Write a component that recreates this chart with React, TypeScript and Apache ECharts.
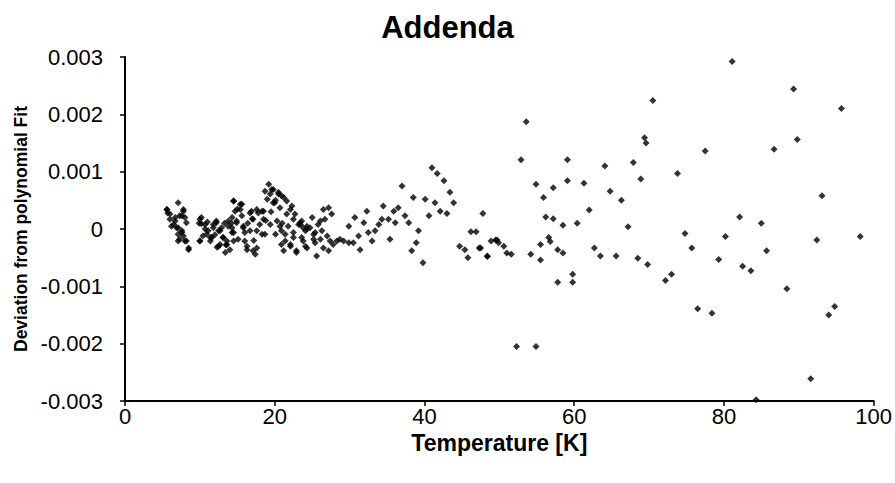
import React, { useEffect, useRef } from "react";
import * as echarts from "echarts";

const chartTitle = "Addenda";
const xAxisTitle = "Temperature [K]";
const yAxisTitle = "Deviation from polynomial Fit";
const xTicks = [0, 20, 40, 60, 80, 100];
const yTicks = [-0.003, -0.002, -0.001, 0, 0.001, 0.002, 0.003];

// Temperature [K]
const temperature = [
  5.6, 5.7, 6.0, 6.7, 6.2, 6.9, 7.6, 7.8, 7.3, 8.0, 7.1, 8.0, 8.5, 7.3, 7.8, 8.2, 7.1,
  10.0, 10.2, 10.0, 10.7, 10.9, 11.4, 11.6, 11.8, 12.2, 12.5, 12.7, 12.9, 13.1, 13.6, 13.8,
  14.0, 14.3, 14.5, 14.7, 14.9, 15.1, 15.4, 15.6, 15.8, 16.0, 16.3, 16.7, 16.9, 17.4, 17.6,
  17.8, 18.0, 18.3, 18.5, 19.0, 19.2, 19.4, 19.8, 20.0, 20.3, 20.5, 20.7, 20.9, 21.2, 21.4,
  21.6, 21.8, 22.1, 22.3, 22.5, 22.7, 22.9, 23.2, 23.6, 23.8, 24.1, 24.3, 24.7, 25.0, 25.2,
  25.4, 25.6, 25.8,
  11.0, 12.0, 13.3, 14.2, 15.0, 16.4, 17.0, 17.2, 18.8, 19.5, 20.1, 21.0, 13.5, 12.3, 9.9, 10.4,
  18.7, 19.6, 20.5, 20.9, 21.6, 19.8, 14.5, 15.6, 15.4, 16.7, 17.6, 18.3, 22.1, 22.5, 23.4,
  14.3, 14.9, 15.8, 17.1, 18.5, 19.4, 20.7, 24.3, 14.5, 16.0, 17.6, 18.7, 20.1, 21.4, 22.5,
  23.6, 14.5, 16.3, 20.9, 22.1, 24.1, 17.1, 21.2, 22.9,
  5.6, 6.0, 6.7, 7.8, 7.6, 6.5, 7.1, 7.6, 7.1, 8.2, 8.5, 10.2, 10.7, 11.1, 11.4, 10.0,
  11.8, 12.2, 12.7, 13.1, 13.6, 12.5, 13.4, 13.8, 14.3,
  23.4, 23.8, 24.3, 25.4, 25.2, 26.1, 26.1, 26.5, 27.2, 27.6, 26.7, 26.3, 26.5, 27.0, 27.4,
  27.2, 27.8, 28.3, 28.7, 29.2, 29.9, 30.5, 29.9, 30.7, 31.2, 31.4, 31.9, 32.3, 32.5, 33.0,
  33.4, 33.9, 34.3, 34.5, 35.2, 35.4, 35.9, 36.1, 36.5, 37.0, 37.4, 37.9, 38.5, 39.2, 38.9,
  38.3, 39.8, 40.1, 40.6, 41.0, 41.7, 41.4, 42.1, 42.6, 43.0, 43.4, 43.9, 44.7, 45.4, 45.8,
  46.2, 46.9, 47.8, 47.3, 48.4, 48.9, 49.7,
  47.5, 48.4, 49.5, 49.9, 50.6, 51.0, 51.6, 52.3, 52.9, 53.6, 54.2, 54.9, 54.9, 55.5, 55.5,
  55.9, 56.2, 56.6, 56.8, 57.2, 57.2, 57.8, 57.8, 58.5, 58.5, 59.1, 59.1, 59.8, 59.8, 60.4,
  61.3, 62.0, 62.7, 63.5, 64.1, 64.8, 65.6, 66.3, 67.2, 67.9, 68.5, 68.9, 69.4, 69.6, 69.8,
  70.5, 72.2, 73.0, 73.8,
  74.8, 75.7, 76.5, 77.5, 78.4, 79.3, 80.2, 81.1, 82.1, 82.5, 83.6, 84.3, 85.0, 85.7, 86.7,
  88.4, 89.3, 89.8, 91.6, 92.4, 93.1, 94.0, 94.8, 95.7, 98.2,
];

// Deviation from polynomial fit
const deviation = [
  0.00034, 0.00028, 0.00017, 0.00014, 0.00005, 0.00002, -0.00003, 0.00031, 0.00023, 0.0002, -0.00009, -0.00021, -0.00033, -0.00018, -0.00012, 0.00011, 0.00046,
  0.00017, 0.00009, -0.00021, 0.0, -0.00009, -0.00021, -0.00015, 0.00008, 0.00014, -0.00003, -0.00027, 0.00002, -0.00015, -0.00021, 0.00005,
  -0.00036, -0.00006, 0.00049, 0.00031, 0.00014, -0.00018, 0.00043, 0.00023, 0.00002, -0.00021, -0.00036, -0.00003, 0.00031, -0.00044, -0.00033,
  0.00028, 0.00008, -0.00009, 0.00031, 0.00052, 0.00078, 0.00061, 0.00069, 0.00046, 0.00014, 0.00061, 0.00037, -0.00003, 0.00055, -0.00021,
  0.00026, 0.00005, -0.00027, 0.0004, -0.00006, 0.00026, -0.00038, 0.00008, 0.00014, -0.00021, -0.00003, -0.00033, 0.00002, 0.0002, -0.00009,
  -0.00024, -0.00047, 0.00008,
  0.00012, -0.0001, 0.0001, 0.0001, 0.00035, 0.0001, 0.00018, -0.0002, 0.00015, 0.0003, 0.0005, 0.0001, -0.00028, -0.00032, 0.0001, -0.00012,
  0.00066, 0.00069, 0.00064, 0.00058, 0.00049, 0.00046, 0.00049, 0.00043, 0.00034, 0.00028, 0.00034, 0.00031, 0.00034, 0.00017, 0.00008,
  0.0002, 0.00011, 0.00005, 0.00017, 0.00017, 0.00008, 0.00005, 0.00005, -0.00006, -0.00006, -0.00003, -0.00009, -0.00009, -0.00009, -0.00015,
  -0.00015, -0.00021, -0.0003, -0.00027, -0.0003, -0.0003, -0.00038, -0.00038, -0.00041,
  0.00034, 0.00026, 0.0002, 0.00034, 0.00023, 0.00008, 0.00002, -0.00006, -0.00021, -0.00021, -0.00036, 0.0002, 0.00008, -0.00003, -0.00015, -0.00021,
  0.00002, 0.00011, -0.00003, -0.00015, -0.00027, -0.0003, -0.00041, 0.00014, 0.00002,
  0.00011, 0.00002, 0.0, -0.00006, -0.00018, -0.00018, 0.00014, 0.00034, 0.00037, 0.00026, 0.00017, -0.00003, -0.00033, -0.00012, -0.00021,
  -0.00038, -0.00027, -0.00021, -0.00018, -0.00021, -0.00024, -0.00024, 0.00005, 0.0002, -0.00012, -0.00036, 0.00011, 0.00031, -0.00006, -0.00021,
  -0.00003, 0.00008, 0.00017, 0.0004, 0.00017, -0.00018, 0.00031, 0.00011, 0.00037, 0.00075, 0.00023, 0.00011, 0.00055, -0.00003, -0.00024,
  -0.00038, -0.00059, 0.00052, 0.00023, 0.00107, 0.00097, 0.00046, 0.00031, 0.00084, 0.00027, 0.00064, 0.00046, -0.0003, -0.00036, -0.0005,
  -0.00005, -0.00005, 0.00027, -0.00033, -0.00047, -0.00021, -0.00019,
  -0.00033, -0.00048, -0.00019, -0.00024, -0.0003, -0.00042, -0.00044, -0.00205, 0.00121, 0.00187, -0.00044, 0.00078, -0.00205, -0.00027, -0.00054,
  0.00055, 0.00021, -0.00015, -0.00022, 0.00072, 0.00018, -0.00036, -0.00093, 0.000065, -0.00042, 0.00121, 0.00084, -0.00079, -0.00093, 0.0001,
  0.0008, 0.00033, -0.00033, -0.00047, 0.0011, 0.00066, -0.00047, 0.0005, 0.00004, 0.00116, -0.00051, 0.00087, 0.00159, 0.0015, -0.00062,
  0.00224, -0.0009, -0.00079, 0.00097,
  -0.00008, -0.00033, -0.00139, 0.00136, -0.00147, -0.00053, -0.00013, 0.00292, 0.00021, -0.00065, -0.00073, -0.00298, 0.0001, -0.00038, 0.00139,
  -0.00104, 0.00244, 0.00156, -0.00261, -0.00019, 0.00058, -0.0015, -0.00135, 0.0021, -0.00013,
];

const FONT = "'Liberation Sans', Arial, sans-serif";

export default function App() {
  const ref = useRef<HTMLDivElement>(null);
  useEffect(() => {
    if (!ref.current) return;
    const chart = echarts.init(ref.current, undefined, { renderer: "svg" });
    const n = Math.min(temperature.length, deviation.length);
    const data: number[][] = [];
    for (let i = 0; i < n; i++) data.push([temperature[i], deviation[i]]);
    chart.setOption({
      animation: false,
      backgroundColor: "#ffffff",
      title: {
        text: chartTitle,
        left: "center",
        top: 7,
        textStyle: { fontFamily: FONT, fontWeight: "bold", fontSize: 31, color: "#000" },
      },
      grid: { left: 125, right: 21, top: 57, bottom: 82 },
      xAxis: {
        type: "value",
        min: xTicks[0],
        max: xTicks[xTicks.length - 1],
        interval: xTicks[1] - xTicks[0],
        name: xAxisTitle,
        nameLocation: "middle",
        nameGap: 30,
        nameTextStyle: { fontFamily: FONT, fontWeight: "bold", fontSize: 23, color: "#000" },
        axisLine: { onZero: false, lineStyle: { color: "#000", width: 2 } },
        axisTick: { inside: false, length: 5, lineStyle: { color: "#000", width: 1.5 } },
        splitLine: { show: false },
        axisLabel: { color: "#000", fontFamily: FONT, fontSize: 22, margin: 4 },
      },
      yAxis: {
        type: "value",
        min: yTicks[0],
        max: yTicks[yTicks.length - 1],
        interval: 0.001,
        name: yAxisTitle,
        nameLocation: "middle",
        nameGap: 92,
        nameTextStyle: { fontFamily: FONT, fontWeight: "bold", fontSize: 17.5, color: "#000" },
        axisLine: { show: true, onZero: false, lineStyle: { color: "#000", width: 2 } },
        axisTick: { show: true, inside: false, length: 5, lineStyle: { color: "#000", width: 1.5 } },
        splitLine: { show: false },
        axisLabel: {
          color: "#000",
          fontFamily: FONT,
          fontSize: 22,
          margin: 22,
          formatter: (v: number) => (Math.abs(v) < 1e-12 ? "0" : v.toFixed(3)),
        },
      },
      series: [
        {
          type: "scatter",
          data,
          symbol: "diamond",
          symbolSize: 7,
          itemStyle: { color: "#000" },
          clip: false,
        },
      ],
    });
    return () => chart.dispose();
  }, []);
  return (
    <div
      ref={ref}
      style={{ position: "fixed", left: 0, top: 0, width: 895, height: 483, background: "#fff" }}
    />
  );
}
